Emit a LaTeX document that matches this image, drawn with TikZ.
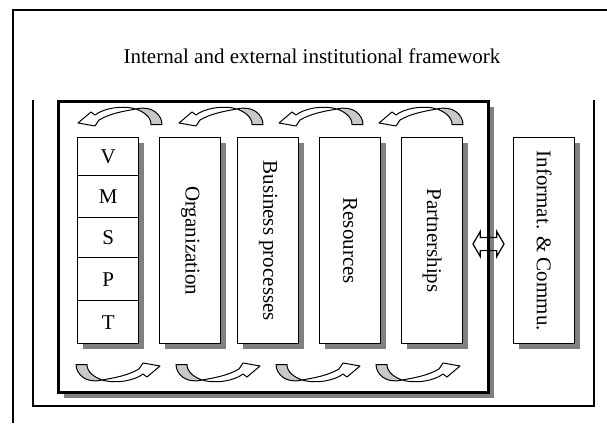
\documentclass[tikz,border=0pt]{standalone}
\usepackage{fontspec}
\setmainfont{Liberation Serif}
\usetikzlibrary{shadows,shapes.arrows}
\definecolor{shgray}{RGB}{128,128,128}
\definecolor{crgray}{RGB}{200,200,200}
\begin{document}
\begin{tikzpicture}[x=1pt,y=-1pt,
  txt/.style={font=\fontsize{21}{24}\selectfont, inner sep=0pt},
  frameline/.style={line width=1.3pt},
  colbox/.style={draw, line width=1.4pt, fill=white, minimum width=61pt, minimum height=206pt,
    anchor=north west, inner sep=0pt,
    drop shadow={shadow xshift=5pt, shadow yshift=-5pt, fill=shgray, opacity=1}},
  cell/.style={draw, line width=1.4pt, minimum width=61pt, anchor=north west, inner sep=0pt,
    font=\fontsize{21}{24}\selectfont},
  mainbox/.style={draw, line width=3pt, fill=white, minimum width=430pt, minimum height=291pt,
    anchor=north west, inner sep=0pt,
    drop shadow={shadow xshift=5pt, shadow yshift=-5pt, fill=shgray, opacity=1}},
  curvarrow/.pic={
    \filldraw[fill=crgray, line width=1pt, line join=round]
      (58,-14) .. controls (74,-18) and (84,-8) .. (84,1.5) -- (73,1.5)
      .. controls (73,-6) and (66,-11) .. (58,-14) -- cycle;
    \filldraw[fill=white, line width=1pt, line join=round]
      (58,-14) .. controls (45,-18) and (26,-15) .. (17,-8) -- (13,-11) -- (0,0)
      -- (17,3) -- (21,-3) .. controls (33,-10) and (47,-12) .. (58,-14) -- cycle;
  }
]
\useasboundingbox (0,0) rectangle (607,423);
% frames
\draw[frameline] (13,423) -- (13,10) -- (607,10);
\draw[frameline] (33,100) -- (33,406) -- (594,406) -- (594,100);
\node[txt, anchor=base] (title) at (312,63) {Internal and external institutional framework};
% main box
\node[mainbox] (main) at (57,100) {};
% columns
\node[colbox] (vmspt) at (77,137) {};
\node[cell, minimum height=38pt] (V) at (77,137) {V};
\node[cell, minimum height=42pt] (M) at (77,175) {M};
\node[cell, minimum height=40pt] (S) at (77,217) {S};
\node[cell, minimum height=43pt] (P) at (77,257) {P};
\node[cell, minimum height=43pt] (T) at (77,300) {T};
\node[colbox] (org) at (159,137) {};
\node[colbox] (bus) at (237,137) {};
\node[colbox] (res) at (319,137) {};
\node[colbox] (par) at (401,137) {};
\node[colbox] (inf) at (513,137) {};
\node[txt, rotate=-90] (orgt) at (org.center) {Organization};
\node[txt, rotate=-90] (bust) at (bus.center) {Business processes};
\node[txt, rotate=-90] (rest) at (res.center) {Resources};
\node[txt, rotate=-90] (part) at (par.center) {Partnerships};
\node[txt, rotate=-90] (inft) at (inf.center) {Informat. \& Commu.};
% curved arrows top
\foreach \x in {78,179,279,379} \pic at (\x,123) {curvarrow};
% curved arrows bottom
\foreach \x in {160,260,360,460} \pic[rotate=180] at (\x,366) {curvarrow};
% double arrow between main and info
\node[double arrow, draw, line width=1.2pt, minimum height=31pt, minimum width=25pt,
  inner sep=0pt, inner ysep=6pt, double arrow head extend=6pt, double arrow tip angle=120]
  (dbl) at (488.5,244) {};
\end{tikzpicture}
\end{document}
